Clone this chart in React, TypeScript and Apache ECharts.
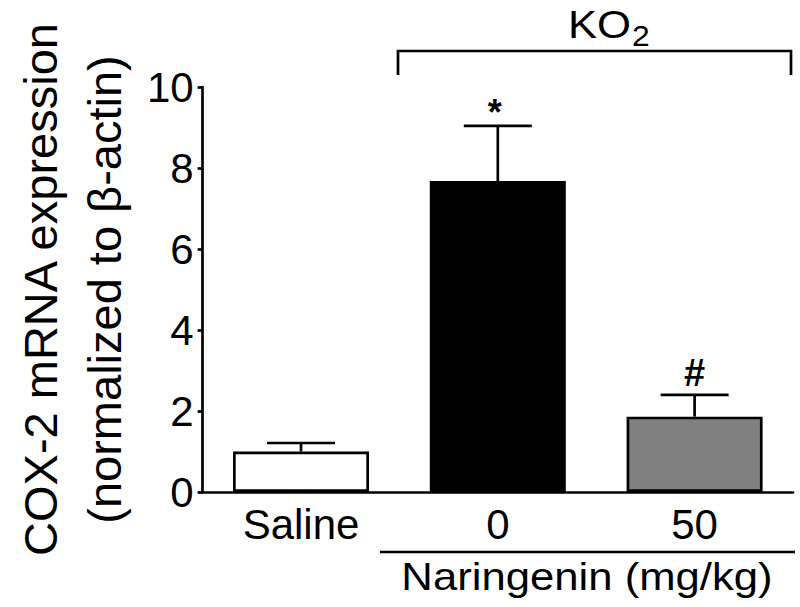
import React, { useEffect, useRef } from "react";
import * as echarts from "echarts";

const categories = ["Saline", "0", "50"];
const means = [1.0, 7.68, 1.86];
const sems = [0.21, 1.36, 0.54];
const barColors = ["#ffffff", "#000000", "#808080"];
const marks = ["", "*", "#"];
const yTicks = { min: 0, max: 10, interval: 2 };

const FONT = "'Liberation Sans', Arial, sans-serif";

export default function App() {
  const ref = useRef<HTMLDivElement>(null);
  useEffect(() => {
    if (!ref.current) return;
    const chart = echarts.init(ref.current, undefined, { renderer: "svg" });
    const errData = means.map((m, i) => [i, m, m + sems[i]]);
    chart.setOption({
      animation: false,
      backgroundColor: "#ffffff",
      grid: { left: 184, right: 7, top: 87, bottom: 115, containLabel: false },
      xAxis: {
        type: "category",
        data: categories,
        axisLine: { lineStyle: { color: "#000", width: 2.7 } },
        axisTick: { alignWithLabel: true, length: 8, lineStyle: { color: "#000", width: 2.7 } },
        axisLabel: { color: "#000", fontSize: 42, fontFamily: FONT, margin: 11 },
      },
      yAxis: {
        type: "value",
        min: yTicks.min,
        max: yTicks.max,
        interval: yTicks.interval,
        name: "COX-2 mRNA expression\n(normalized to β-actin)",
        nameLocation: "middle",
        nameRotate: 90,
        nameGap: 62,
        nameTextStyle: { color: "#000", fontSize: 47, fontFamily: FONT, lineHeight: 64, align: "center" },
        axisLine: { show: true, lineStyle: { color: "#000", width: 2.7 } },
        axisTick: { show: true, length: 5, lineStyle: { color: "#000", width: 2.7 } },
        splitLine: { show: false },
        axisLabel: { color: "#000", fontSize: 42, fontFamily: FONT, margin: 9 },
      },
      series: [
        {
          type: "bar",
          barWidth: 136,
          data: means.map((v, i) => ({
            value: v,
            itemStyle: { color: barColors[i], borderColor: "#000", borderWidth: 2.7 },
          })),
          z: 2,
        },
        {
          type: "custom",
          z: 3,
          data: errData,
          renderItem: (params: any, api: any) => {
            const i = api.value(0);
            const base = api.coord([i, api.value(1)]);
            const top = api.coord([i, api.value(2)]);
            const half = 34;
            const mark = marks[params.dataIndex];
            const children: any[] = [
              { type: "line", shape: { x1: base[0], y1: base[1], x2: top[0], y2: top[1] }, style: { stroke: "#000", lineWidth: 2.7 } },
              { type: "line", shape: { x1: top[0] - half, y1: top[1], x2: top[0] + half, y2: top[1] }, style: { stroke: "#000", lineWidth: 2.7 } },
            ];
            if (mark === "*") {
              children.push({
                type: "text",
                x: top[0] - 3,
                y: top[1] - 13,
                style: { text: mark, fill: "#000", font: `bold 36px ${FONT}`, textAlign: "center", textVerticalAlign: "middle" },
              });
            } else if (mark) {
              children.push({
                type: "text",
                x: top[0],
                y: top[1] - 22,
                style: { text: mark, fill: "#000", font: `bold 38px ${FONT}`, textAlign: "center", textVerticalAlign: "middle" },
              });
            }
            return { type: "group", children };
          },
        },
      ],
      graphic: [
        { type: "polyline", shape: { points: [[398, 75], [398, 51], [791, 51], [791, 75]] }, style: { stroke: "#000", lineWidth: 2.7, fill: "none" } },
        {
          type: "text",
          x: 568,
          y: 25,
          scaleX: 1.12,
          style: { text: "KO", fill: "#000", font: `39px ${FONT}`, textAlign: "left", textVerticalAlign: "middle" },
        },
        {
          type: "text",
          x: 632,
          y: 36,
          scaleX: 1.1,
          style: { text: "2", fill: "#000", font: `29px ${FONT}`, textAlign: "left", textVerticalAlign: "middle" },
        },
        { type: "line", shape: { x1: 380, y1: 552, x2: 795, y2: 552 }, style: { stroke: "#000", lineWidth: 2.7 } },
        {
          type: "text",
          x: 587,
          y: 577,
          scaleX: 1.12,
          style: { text: "Naringenin (mg/kg)", fill: "#000", font: `39px ${FONT}`, textAlign: "center", textVerticalAlign: "middle" },
        },
      ],
    });
    return () => chart.dispose();
  }, []);
  return <div ref={ref} style={{ width: 800, height: 607, position: "absolute", left: 0, top: 0 }} />;
}
